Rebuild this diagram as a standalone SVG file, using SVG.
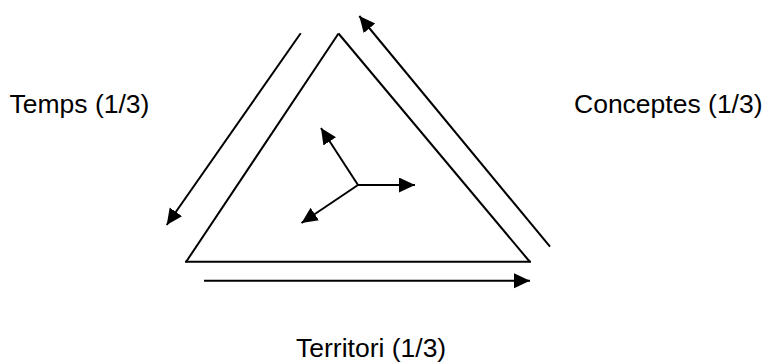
<svg xmlns="http://www.w3.org/2000/svg" width="766" height="363" viewBox="0 0 766 363">
<style>
.ln{stroke:#000;stroke-width:2;fill:none}
.ar{stroke:#000;stroke-width:2;fill:none;marker-end:url(#ah)}
.lbl{font-family:"Liberation Sans",Arial,sans-serif;fill:#000;font-size:26.5px}
</style>
<defs>
<marker id="ah" markerUnits="userSpaceOnUse" markerWidth="17" markerHeight="16" refX="16" refY="7.5" orient="auto">
<path d="M0,0 L16,7.5 L0,15 z" fill="#000"/>
</marker>
</defs>
<rect width="766" height="363" fill="#fff"/>
<g id="triangle">
<line class="ln" x1="338.5" y1="33.5" x2="186" y2="262"/>
<line class="ln" x1="338.5" y1="33.5" x2="530" y2="262"/>
<line class="ln" x1="185" y1="261.7" x2="531" y2="261.7"/>
</g>
<g id="connectors">
<line class="ar" x1="300.7" y1="33.3" x2="166.7" y2="225"/>
<line class="ar" x1="550" y1="246.7" x2="359.3" y2="16"/>
<line class="ar" x1="204" y1="280.7" x2="530" y2="280.7"/>
<line class="ar" x1="358" y1="185" x2="321" y2="128"/>
<line class="ar" x1="358" y1="185" x2="415" y2="185"/>
<line class="ar" x1="358" y1="185" x2="301.5" y2="223"/>
</g>
<g id="temps"><text class="lbl" x="9.5" y="112.7">Temps (1/3)</text></g>
<g id="conceptes"><text class="lbl" x="574" y="112.7">Conceptes (1/3)</text></g>
<g id="territori"><text class="lbl" x="296" y="356.5">Territori (1/3)</text></g>
</svg>
